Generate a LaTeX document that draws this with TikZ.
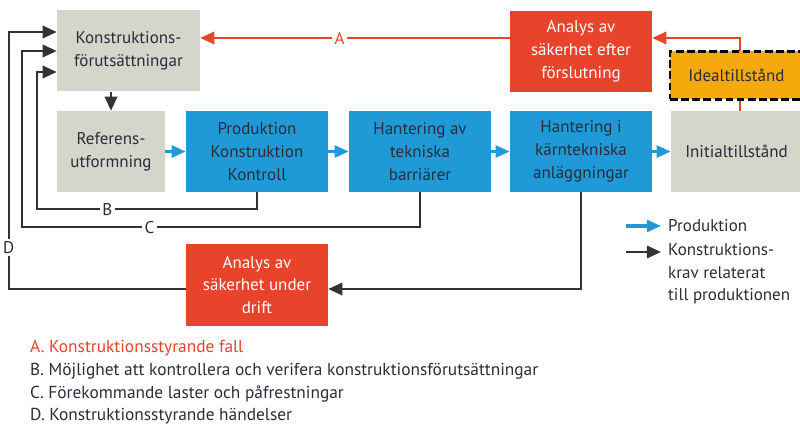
\documentclass[tikz,border=0pt]{standalone}
\usepackage{fontspec}
\setmainfont{PT Sans}
\usetikzlibrary{arrows.meta,calc}

\definecolor{boxgray}{HTML}{D5D5CC}
\definecolor{boxblue}{HTML}{1F9AD6}
\definecolor{boxred}{HTML}{E8432B}
\definecolor{boxorange}{HTML}{F6A90D}
\definecolor{textdark}{HTML}{2A2C3A}
\definecolor{linedark}{HTML}{333333}

\begin{document}
\begin{tikzpicture}[x=0.03cm, y=-0.03cm, font=\fontsize{14.5}{19.5}\selectfont]
    \tikzstyle{box}=[rectangle, minimum height=2.43cm, inner sep=0pt, align=center, text=textdark]
    \tikzstyle{gray box}=[box, fill=boxgray]
    \tikzstyle{blue box}=[box, fill=boxblue, minimum width=4.26cm]
    \tikzstyle{red box}=[box, fill=boxred, minimum width=4.26cm, text=white]
    \tikzstyle{ideal box}=[box, fill=boxorange, minimum height=1.44cm, draw=black,
        line width=2.3pt, dash pattern=on 6.5pt off 3pt]
    \tikzstyle{flow}=[-{Triangle[length=12pt,width=10pt]}, boxblue, line width=2.6pt]
    \tikzstyle{demand}=[-{Triangle[length=12pt,width=10.5pt]}, linedark, line width=2.1pt]
    \tikzstyle{case}=[-{Triangle[length=12pt,width=10.5pt]}, boxred, line width=2.1pt]
    \tikzstyle{tag}=[fill=white, inner sep=2pt, text=textdark]
    \tikzstyle{note}=[inner sep=0pt, text=textdark, align=left]

    \useasboundingbox (0,0) rectangle (800,425);

    % boxes of the flow
    \node[gray box, minimum width=4.29cm] (premise) at (128.5,51) {Konstruktions-\\förutsättningar};
    \node[gray box, minimum width=3.24cm] (reference) at (111,151.5) {Referens-\\utformning};

    \foreach \n/\x/\t in {production/257/{Produktion\\Konstruktion\\Kontroll},
        barrier/420/{Hantering av\\tekniska\\barriärer},
        plant/581/{Hantering i\\kärntekniska\\anläggningar}}
    \node[blue box] (\n) at (\x,151.5) {\t};

    \node[gray box, minimum width=3.93cm] (initial) at (736.5,151.5) {Initialtillstånd};
    \node[red box] (closure) at (581,51.5) {Analys av\\säkerhet efter\\förslutning};
    \node[red box] (operation) at (257,285) {Analys av\\säkerhet under\\drift};

    % red arrows
    \draw[case] ($(initial.north)+(3.5,0)$) |- ($(closure.east)+(0,-13.5)$);
    \draw[case] ($(closure.west)+(0,-13.5)$) --
        node[tag, text=boxred, pos=0.55]{A} ($(premise.east)+(0,-13)$);

    \node[ideal box, minimum width=3.99cm] (ideal) at (736.5,75.5) {Idealtillstånd};

    % production arrows
    \draw[flow] (reference) -- (production);
    \draw[flow] (production) -- (barrier);
    \draw[flow] (barrier) -- (plant);
    \draw[flow] (plant) -- (initial);

    % demand arrows
    \draw[demand] (premise.south -| reference.north) -- (reference.north);
    \draw[demand] (production.south) -- ++(0,17) --
        node[tag, pos=0.68]{B} ++(-220,0) |- ($(premise.west)+(0,21)$);
    \draw[demand] (barrier.south) -- ++(0,35) --
        node[tag, pos=0.68]{C} ++(-398,0) |- (premise.west);
    \draw[demand] ($(operation.west)+(0,4)$) -|
        node[tag, pos=0.58]{D} ($(premise.west)+(-48,-19)$) -- ($(premise.west)+(0,-19)$);
    \draw[demand] (plant.south) |- ($(operation.east)+(0,4)$);

    % legend
    \node[note, anchor=west] (key-flow) at (668,226) {Produktion};
    \node[note, anchor=north west] (key-demand) at (668,243) {Konstruktions-\\krav relaterat\\till produktionen};
    \draw[flow] ($(key-flow.west)+(-42,0)$) -- ($(key-flow.west)+(-7,0)$);
    \draw[demand] ($(key-demand.north west)+(-42,9)$) -- ($(key-demand.north west)+(-7,9)$);

    % explanation of the letters
    \foreach \l/\c/\t [count=\i] in {A/boxred/Konstruktionsstyrande fall,
        B/textdark/Möjlighet att kontrollera och verifera konstruktionsförutsättningar,
        C/textdark/Förekommande laster och påfrestningar,
        D/textdark/Konstruktionsstyrande händelser}
    \node[note, anchor=west, text=\c, font=\fontsize{14.8}{19.5}\selectfont] (note-\l) at (30,326+22.5*\i) {\l. \t};

\end{tikzpicture}
\end{document}
